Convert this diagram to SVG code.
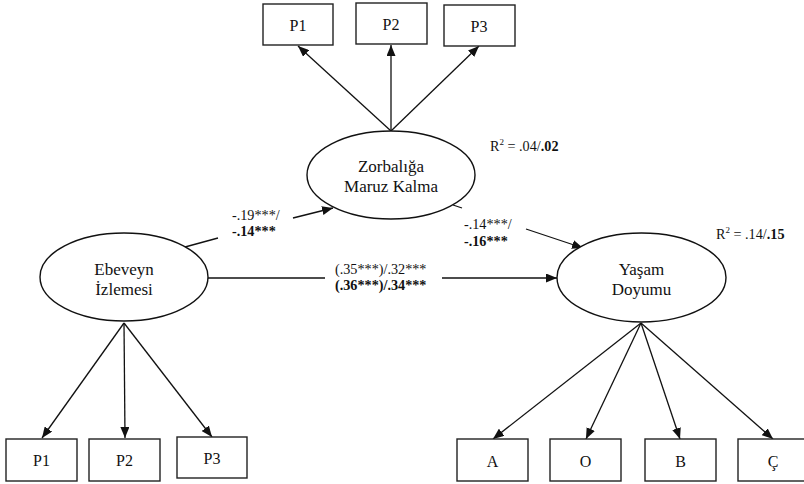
<svg xmlns="http://www.w3.org/2000/svg" width="804" height="484" viewBox="0 0 804 484" font-family="'Liberation Serif', 'DejaVu Serif', serif">
<style>
text{font-family:'Liberation Serif','DejaVu Serif',serif;fill:#111}
.box{fill:#fff;stroke:#222;stroke-width:1.4}
.ell{fill:#fff;stroke:#111;stroke-width:1.4}
.bl{font-size:16px;text-anchor:middle}
.el{font-size:17px;text-anchor:middle}
.lab{font-size:14.2px}
.b{font-weight:bold}
.c line{stroke:#111;stroke-width:1.3}
.c line.a{marker-end:url(#ah)}
</style>
<defs>
<marker id="ah" markerUnits="userSpaceOnUse" markerWidth="11" markerHeight="9" viewBox="0 0 11 9" refX="11" refY="4.5" orient="auto">
<path d="M0,0 L11,4.5 L0,9 Z" fill="#111"/>
</marker>
</defs>
<rect width="804" height="484" fill="#fff"/>
<g class="c" id="connectors">
<line class="a" x1="391" y1="131" x2="298" y2="46"/>
<line class="a" x1="391" y1="131" x2="391" y2="45"/>
<line class="a" x1="391" y1="131" x2="479" y2="46"/>
<line x1="185" y1="247" x2="218" y2="238"/>
<line class="a" x1="293" y1="218" x2="333" y2="208"/>
<line x1="208" y1="278" x2="325" y2="278"/>
<line class="a" x1="442" y1="278" x2="557" y2="278"/>
<line x1="453" y1="205" x2="462" y2="208"/>
<line class="a" x1="526" y1="229" x2="583" y2="248"/>
<line class="a" x1="124" y1="323" x2="42" y2="438"/>
<line class="a" x1="124" y1="323" x2="125" y2="438"/>
<line class="a" x1="124" y1="323" x2="212" y2="437"/>
<line class="a" x1="641" y1="323" x2="493" y2="439"/>
<line class="a" x1="641" y1="323" x2="586" y2="439"/>
<line class="a" x1="641" y1="323" x2="680" y2="439"/>
<line class="a" x1="641" y1="323" x2="773" y2="439"/>
</g>
<g id="zorb_p1"><rect class="box" x="263" y="4" width="70" height="41"/><text class="bl" x="298" y="31">P1</text></g>
<g id="zorb_p2"><rect class="box" x="356" y="3" width="71" height="41"/><text class="bl" x="391" y="30">P2</text></g>
<g id="zorb_p3"><rect class="box" x="444" y="5" width="71" height="41"/><text class="bl" x="479" y="32">P3</text></g>
<g id="zorbaliga"><ellipse class="ell" cx="391" cy="175" rx="84" ry="44"/><text class="el" x="391" y="172">Zorbalığa</text><text class="el" x="391" y="192">Maruz Kalma</text></g>
<g id="ebeveyn"><ellipse class="ell" cx="124" cy="277" rx="84" ry="44"/><text class="el" x="124" y="275">Ebeveyn</text><text class="el" x="124" y="295">İzlemesi</text></g>
<g id="yasam"><ellipse class="ell" cx="641.5" cy="277.5" rx="84.5" ry="44.5"/><text class="el" x="641.5" y="275">Yaşam</text><text class="el" x="641.5" y="295">Doyumu</text></g>
<g id="ebev_p1"><rect class="box" x="6" y="439" width="71" height="42"/><text class="bl" x="41.5" y="466">P1</text></g>
<g id="ebev_p2"><rect class="box" x="89" y="439" width="71" height="42"/><text class="bl" x="124.5" y="466">P2</text></g>
<g id="ebev_p3"><rect class="box" x="177" y="437" width="70" height="41"/><text class="bl" x="212" y="464">P3</text></g>
<g id="yd_a"><rect class="box" x="457" y="439" width="71" height="42"/><text class="bl" x="492.5" y="467">A</text></g>
<g id="yd_o"><rect class="box" x="550" y="439" width="71" height="42"/><text class="bl" x="585.5" y="467">O</text></g>
<g id="yd_b"><rect class="box" x="645" y="439" width="71" height="42"/><text class="bl" x="680.5" y="467">B</text></g>
<g id="yd_c"><rect class="box" x="738" y="439" width="71" height="42"/><text class="bl" x="773" y="467">Ç</text></g>
<g id="labels">
<text class="lab" x="232" y="220">-.19***/</text>
<text class="lab b" x="232" y="236">-.14***</text>
<text class="lab" x="335" y="274">(.35***)/.32***</text>
<text class="lab b" x="335" y="290">(.36***)/.34***</text>
<text class="lab" x="464" y="229">-.14***/</text>
<text class="lab b" x="464" y="246">-.16***</text>
<text class="lab" x="490" y="151">R<tspan font-size="9" dy="-6">2</tspan><tspan dy="6"> = .04/</tspan><tspan class="b">.02</tspan></text>
<text class="lab" x="716" y="239">R<tspan font-size="9" dy="-6">2</tspan><tspan dy="6"> = .14/</tspan><tspan class="b">.15</tspan></text>
</g>
</svg>
